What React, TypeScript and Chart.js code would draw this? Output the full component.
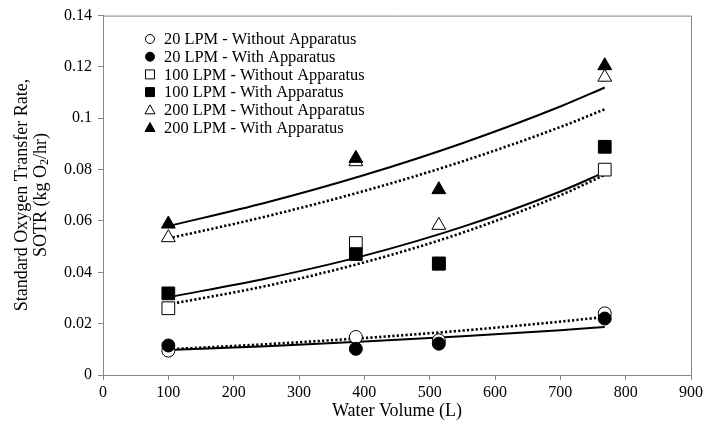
import React, { useEffect, useRef } from 'react';
import { Chart, registerables } from 'chart.js';

Chart.register(...registerables);

// ---- data ----
const volumes = [100, 387, 514, 768];
const lpm20Without = [0.0095, 0.0148, 0.0135, 0.024];
const lpm20With = [0.0115, 0.0102, 0.0122, 0.022];
const lpm100Without = [0.026, 0.0514, 0.0434, 0.08];
const lpm100With = [0.0318, 0.0471, 0.0434, 0.0889];
const lpm200Without = [0.0535, 0.0831, 0.0583, 0.116];
const lpm200With = [0.0588, 0.0844, 0.0722, 0.1205];

// trendline samples
const trendX = [100, 250, 400, 550, 700, 768];
const trend20Without = [0.01, 0.012, 0.0144, 0.0173, 0.0208, 0.0226];
const trend20With = [0.0097, 0.01124, 0.01302, 0.01508, 0.01746, 0.0187];
const trend100Without = [0.0275, 0.0347, 0.0439, 0.0554, 0.07, 0.078];
const trend100With = [0.0303, 0.0376, 0.0465, 0.0577, 0.0715, 0.079];
const trend200Without = [0.0532, 0.0618, 0.0717, 0.0832, 0.0966, 0.1035];
const trend200With = [0.058, 0.0672, 0.0779, 0.0903, 0.1046, 0.112];

const legendLabels = [
  '20 LPM - Without Apparatus',
  '20 LPM - With Apparatus',
  '100 LPM - Without Apparatus',
  '100 LPM - With Apparatus',
  '200 LPM - Without Apparatus',
  '200 LPM - With Apparatus',
];

const xTitle = 'Water Volume (L)';
const yTitleLine1 = 'Standard Oxygen Transfer Rate,';

const FONT = "'Liberation Serif', 'Times New Roman', serif";
const AXIS_GRAY = '#868686';

type Shape = 'circle' | 'rect' | 'triangle';

const toPts = (xs: number[], ys: number[]) => xs.map((x, i) => ({ x, y: ys[i] }));

const markerSets: { label: string; ys: number[]; shape: Shape; filled: boolean; radius: number }[] = [
  { label: legendLabels[0], ys: lpm20Without, shape: 'circle', filled: false, radius: 6.5 },
  { label: legendLabels[1], ys: lpm20With, shape: 'circle', filled: true, radius: 6.5 },
  { label: legendLabels[2], ys: lpm100Without, shape: 'rect', filled: false, radius: 9 },
  { label: legendLabels[3], ys: lpm100With, shape: 'rect', filled: true, radius: 9 },
  { label: legendLabels[4], ys: lpm200Without, shape: 'triangle', filled: false, radius: 8 },
  { label: legendLabels[5], ys: lpm200With, shape: 'triangle', filled: true, radius: 8 },
];

const trendSets: { ys: number[]; dotted: boolean }[] = [
  { ys: trend20Without, dotted: true },
  { ys: trend20With, dotted: false },
  { ys: trend100Without, dotted: true },
  { ys: trend100With, dotted: false },
  { ys: trend200Without, dotted: true },
  { ys: trend200With, dotted: false },
];

const framePlugin = {
  id: 'frame',
  beforeDatasetsDraw(chart: any) {
    const { ctx, chartArea } = chart;
    ctx.save();
    ctx.strokeStyle = AXIS_GRAY;
    ctx.lineWidth = 1;
    ctx.beginPath();
    ctx.moveTo(chartArea.left, chartArea.top + 0.5);
    ctx.lineTo(chartArea.right + 0.5, chartArea.top + 0.5);
    ctx.lineTo(chartArea.right + 0.5, chartArea.bottom);
    ctx.stroke();
    ctx.restore();
  },
};

const drawSymbol = (ctx: CanvasRenderingContext2D, shape: Shape, filled: boolean, x: number, y: number) => {
  ctx.beginPath();
  if (shape === 'circle') {
    ctx.arc(x, y, 4.5, 0, Math.PI * 2);
  } else if (shape === 'rect') {
    ctx.rect(x - 4.5, y - 4.5, 9, 9);
  } else {
    ctx.moveTo(x, y - 5);
    ctx.lineTo(x + 5, y + 4);
    ctx.lineTo(x - 5, y + 4);
    ctx.closePath();
  }
  ctx.fillStyle = filled ? '#000' : '#fff';
  ctx.fill();
  ctx.strokeStyle = '#000';
  ctx.lineWidth = 1;
  ctx.stroke();
};

const textPlugin = {
  id: 'texts',
  afterDraw(chart: any) {
    const { ctx, chartArea } = chart;
    ctx.save();
    // legend
    ctx.font = `16.4px ${FONT}`;
    ctx.textBaseline = 'middle';
    ctx.textAlign = 'left';
    markerSets.forEach((m, i) => {
      const y = 39 + i * 17.7;
      drawSymbol(ctx, m.shape, m.filled, 150, y);
      ctx.fillStyle = '#000';
      ctx.fillText(m.label, 164, y + 1);
    });
    // x title
    ctx.font = `18px ${FONT}`;
    ctx.textAlign = 'center';
    ctx.fillStyle = '#000';
    ctx.fillText(xTitle, (chartArea.left + chartArea.right) / 2, 411);
    // y title
    const cy = 195;
    ctx.save();
    ctx.translate(22, cy);
    ctx.rotate(-Math.PI / 2);
    ctx.fillText(yTitleLine1, 0, 0);
    ctx.restore();
    ctx.save();
    ctx.translate(41, cy);
    ctx.rotate(-Math.PI / 2);
    const partA = 'SOTR (kg O';
    const sub = '2';
    const partB = '/hr)';
    ctx.font = `18px ${FONT}`;
    const wA = ctx.measureText(partA).width;
    const wB = ctx.measureText(partB).width;
    ctx.font = `12px ${FONT}`;
    const wS = ctx.measureText(sub).width;
    const total = wA + wS + wB;
    let sx = -total / 2;
    ctx.textAlign = 'left';
    ctx.font = `18px ${FONT}`;
    ctx.fillText(partA, sx, 0);
    sx += wA;
    ctx.font = `12px ${FONT}`;
    ctx.fillText(sub, sx, 4);
    sx += wS;
    ctx.font = `18px ${FONT}`;
    ctx.fillText(partB, sx, 0);
    ctx.restore();
    ctx.restore();
  },
};

export default function App() {
  const ref = useRef<HTMLCanvasElement | null>(null);

  useEffect(() => {
    if (!ref.current) return;
    const datasets: any[] = [];
    trendSets.forEach((t) => {
      datasets.push({
        type: 'line',
        data: toPts(trendX, t.ys),
        showLine: true,
        borderColor: '#000',
        borderWidth: t.dotted ? 2.6 : 2,
        borderDash: t.dotted ? [2.2, 2.2] : [],
        pointRadius: 0,
        fill: false,
        cubicInterpolationMode: 'monotone',
        order: 3,
      });
    });
    markerSets.forEach((m) => {
      datasets.push({
        type: 'scatter',
        label: m.label,
        data: toPts(volumes, m.ys),
        pointStyle: m.shape,
        pointRadius: m.radius,
        pointBackgroundColor: m.filled ? '#000' : '#fff',
        pointBorderColor: '#000',
        pointBorderWidth: 1,
        showLine: false,
        order: m.filled ? 1 : 2,
      });
    });

    const chart = new Chart(ref.current, {
      type: 'scatter',
      data: { datasets },
      options: {
        animation: false,
        responsive: false,
        layout: { padding: { top: 12, right: 15, left: 0, bottom: 0 } },
        plugins: {
          legend: { display: false },
          tooltip: { enabled: false },
        },
        scales: {
          x: {
            type: 'linear',
            min: 0,
            max: 900,
            afterFit: (s: any) => {
              s.height = 50;
            },
            ticks: {
              stepSize: 100,
              color: '#000',
              padding: 3,
              font: { family: FONT, size: 16 },
              maxRotation: 0,
            },
            grid: {
              drawOnChartArea: false,
              drawTicks: true,
              tickLength: 5,
              color: AXIS_GRAY,
            },
            border: { color: AXIS_GRAY, width: 1 },
          },
          y: {
            type: 'linear',
            min: 0,
            max: 0.14,
            afterFit: (s: any) => {
              s.width = 103;
            },
            ticks: {
              stepSize: 0.02,
              color: '#000',
              padding: 6,
              font: { family: FONT, size: 16 },
              callback: (v: any) => String(Number(Number(v).toFixed(2))),
            },
            grid: {
              drawOnChartArea: false,
              drawTicks: true,
              tickLength: 5,
              color: AXIS_GRAY,
            },
            border: { color: AXIS_GRAY, width: 1 },
          },
        },
      },
      plugins: [framePlugin, textPlugin],
    });
    return () => chart.destroy();
  }, []);

  return (
    <canvas
      ref={ref}
      width={706}
      height={425}
      style={{ position: 'fixed', left: 0, top: 0, width: 706, height: 425, background: '#fff' }}
    />
  );
}
